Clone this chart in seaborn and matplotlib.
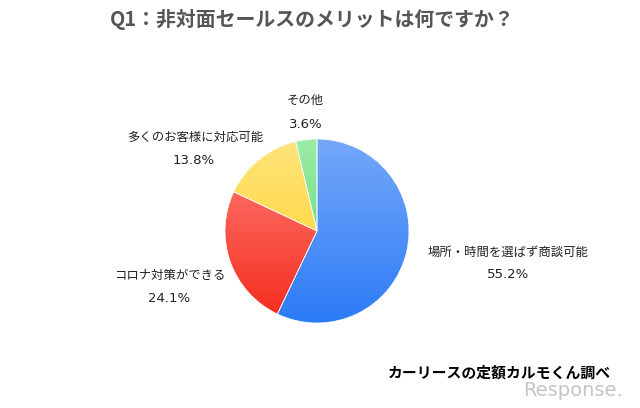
import matplotlib
matplotlib.use("Agg")
import matplotlib.pyplot as plt
import seaborn as sns
import numpy as np

# data
labels = ["場所・時間を選ばず商談可能", "コロナ対策ができる", "多くのお客様に対応可能", "その他"]
values = [55.2, 24.1, 13.8, 3.6]
pct_labels = ["55.2%", "24.1%", "13.8%", "3.6%"]
top_colors = ["#74a8fa", "#ff8078", "#ffe47c", "#9cecA6"]
bottom_colors = ["#2c7bf6", "#f52a1c", "#ffd01a", "#52d36c"]

title = "Q1：非対面セールスのメリットは何ですか？"
source = "カーリースの定額カルモくん調べ"

sns.set_theme(style="white")
plt.rcParams['font.family'] = ['Noto Sans CJK JP', 'DejaVu Sans']

W, H = 640, 408
fig = plt.figure(figsize=(6.4, 4.08), dpi=100)
ax = fig.add_axes([0, 0, 1, 1])

cx, cy, r = 317, H - 231, 92
wedges, _ = ax.pie(values, center=(cx, cy), radius=r, startangle=90, counterclock=False,
                   wedgeprops=dict(edgecolor='white', linewidth=0.5))

# vertical gradient inside each wedge
grad = np.linspace(0, 1, 256).reshape(-1, 1)
for w, c0, c1 in zip(wedges, top_colors, bottom_colors):
    cmap = sns.blend_palette([c0, c1], n_colors=256, as_cmap=True)
    im = ax.imshow(grad, extent=(cx - r, cx + r, cy - r, cy + r), cmap=cmap,
                   aspect='auto', origin='upper', zorder=0.5)
    im.set_clip_path(w)
    w.set_facecolor('none')

ax.set_xlim(0, W)
ax.set_ylim(0, H)
ax.set_aspect('equal')
ax.axis('off')

# label positions (pixel coords from top-left)
label_pos = [(508, 252), (170, 275), (195, 137), (305, 100)]
pct_pos = [(508, 275), (169, 298), (194, 161), (306, 125)]
for s, p, (lx, ly), (px, py) in zip(labels, pct_labels, label_pos, pct_pos):
    ax.text(lx, H - ly, s, ha='center', va='center', fontsize=8.9, color='#222222')
    ax.text(px, H - py, p, ha='center', va='center', fontsize=9.5, color='#222222',
            family='DejaVu Sans')

ax.text(312, H - 19, title, ha='center', va='center', fontsize=14.3,
        fontweight='bold', color='#555555')
ax.text(499, H - 373, source, ha='center', va='center', fontsize=10.7,
        fontweight='bold', color='black')
ax.text(573, H - 391, "Response.", ha='center', va='center', fontsize=14,
        color='#c4c4c4', family='DejaVu Sans', zorder=0.1)

fig.savefig("out.png", dpi=100, facecolor='white')
